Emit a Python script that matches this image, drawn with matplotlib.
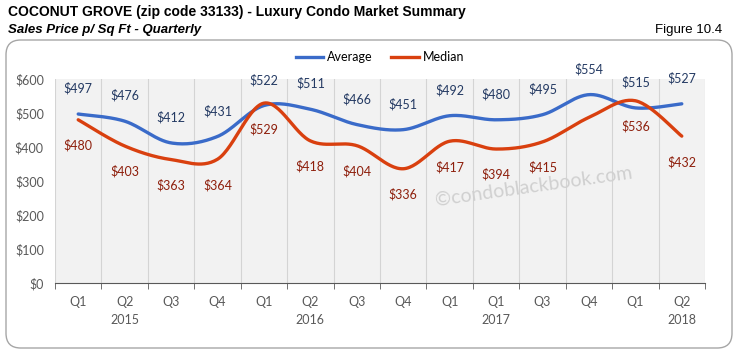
import numpy as np
import matplotlib
matplotlib.use('Agg')
import matplotlib.pyplot as plt
from matplotlib.patches import FancyBboxPatch
from matplotlib.lines import Line2D

# quarterly sales price per sq ft
quarters = ['Q1', 'Q2', 'Q3', 'Q4', 'Q1', 'Q2', 'Q3', 'Q4', 'Q1', 'Q1', 'Q3', 'Q4', 'Q1', 'Q2']
years = {1: '2015', 5: '2016', 9: '2017', 13: '2018'}
average = [497, 476, 412, 431, 522, 511, 466, 451, 492, 480, 495, 554, 515, 527]
median = [480, 403, 363, 364, 529, 418, 404, 336, 417, 394, 415, 487, 536, 432]
median_labeled = [True] * 11 + [False] + [True] * 2

AVG_COLOR = '#3A6BC9'
MED_COLOR = '#D9400F'
AVG_TEXT = '#243A63'
MED_TEXT = '#8E1F0C'
TITLE_FONT = ['Liberation Sans Narrow', 'Liberation Sans', 'DejaVu Sans']
LABEL_FONT = ['Lato', 'DejaVu Sans']


def smooth(x, y, n=30):
    """Catmull-Rom style smoothing, similar to Excel smoothed lines"""
    x = np.asarray(x, float)
    y = np.asarray(y, float)
    px = np.concatenate([[x[0]], x, [x[-1]]])
    py = np.concatenate([[y[0]], y, [y[-1]]])
    xs, ys = [], []
    t = np.linspace(0, 1, n)
    for i in range(1, len(px) - 2):
        p0 = np.array([px[i], py[i]])
        p3 = np.array([px[i + 1], py[i + 1]])
        p1 = p0 + (np.array([px[i + 1], py[i + 1]]) - np.array([px[i - 1], py[i - 1]])) / 6
        p2 = p3 - (np.array([px[i + 2], py[i + 2]]) - np.array([px[i], py[i]])) / 6
        b = ((1 - t) ** 3)[:, None] * p0 + (3 * (1 - t) ** 2 * t)[:, None] * p1 \
            + (3 * (1 - t) * t ** 2)[:, None] * p2 + (t ** 3)[:, None] * p3
        xs.append(b[:, 0])
        ys.append(b[:, 1])
    return np.concatenate(xs), np.concatenate(ys)


fig = plt.figure(figsize=(7.37, 3.52), dpi=100)
fig.patch.set_facecolor('white')

# rounded chart frame
frame = FancyBboxPatch((6 / 737, 4 / 352), 726 / 737, 308 / 352,
                       boxstyle='round,pad=0,rounding_size=0.02',
                       mutation_aspect=737 / 352,
                       transform=fig.transFigure, facecolor='none',
                       edgecolor='#A6A6A6', linewidth=1.0)
fig.patches.append(frame)

fig.text(8 / 737, 1 - 12 / 352, 'COCONUT GROVE (zip code 33133) - Luxury Condo Market Summary',
         family=TITLE_FONT, fontsize=10, fontweight='bold', va='center', ha='left')
fig.text(8 / 737, 1 - 30 / 352, 'Sales Price p/ Sq Ft - Quarterly',
         family=TITLE_FONT, fontsize=9.5, fontweight='bold', style='italic', va='center', ha='left')
fig.text(722 / 737, 1 - 30 / 352, 'Figure 10.4',
         family=TITLE_FONT, fontsize=9.5, va='center', ha='right')

ax = fig.add_axes([55 / 737, 1 - 283 / 352, 650 / 737, 204 / 352])
ax.set_facecolor('#F2F2F2')

x = np.arange(len(quarters))
sx, sy = smooth(x, average)
ax.plot(sx, sy, color=AVG_COLOR, lw=2.4, solid_capstyle='round', zorder=3)
sx, sy = smooth(x, median)
ax.plot(sx, sy, color=MED_COLOR, lw=2.4, solid_capstyle='round', zorder=3)

for i in x:
    ax.annotate(f'${average[i]}', (i, average[i]), xytext=(0, 14), textcoords='offset points',
                ha='center', va='bottom', color=AVG_TEXT, fontsize=9, family=LABEL_FONT)
    if median_labeled[i]:
        ax.annotate(f'${median[i]}', (i, median[i]), xytext=(0, -14), textcoords='offset points',
                    ha='center', va='top', color=MED_TEXT, fontsize=9, family=LABEL_FONT)

ax.set_xlim(-0.5, len(quarters) - 0.5)
ax.set_ylim(0, 600)
ax.set_yticks(range(0, 601, 100))
ax.set_yticklabels([f'${v}' for v in range(0, 601, 100)], family=LABEL_FONT,
                   fontsize=9, color='#595959')
ax.set_xticks(x)
ax.set_xticklabels(quarters, family=LABEL_FONT, fontsize=9, color='#595959')
ax.set_xticks(np.arange(-0.5, len(quarters)), minor=True)
ax.tick_params(axis='x', which='major', length=0, pad=9)
ax.tick_params(axis='x', which='minor', length=4, color='#595959', direction='out')
ax.tick_params(axis='y', length=0, pad=8)
ax.grid(axis='x', which='minor', color='#D4D4D4', lw=0.8)
ax.set_axisbelow(True)
for s in ['top', 'right', 'left']:
    ax.spines[s].set_visible(False)
ax.spines['bottom'].set_color('#595959')

for i, yr in years.items():
    ax.text(i, -0.15, yr, transform=ax.get_xaxis_transform(), ha='center', va='top',
            family=LABEL_FONT, fontsize=9, color='#595959')

# watermark
ax.text(9.8, 285, '\u00a9condoblackbook.com', rotation=8, ha='center', va='center',
        fontsize=14, color='#D0D0D0', family=LABEL_FONT, zorder=2)

handles = [Line2D([], [], color=AVG_COLOR, lw=2.4), Line2D([], [], color=MED_COLOR, lw=2.4)]
fig.legend(handles, ['Average', 'Median'], loc='center', bbox_to_anchor=(380 / 737, 1 - 57 / 352),
           ncol=2, frameon=False, handlelength=2.2, handletextpad=0.3, columnspacing=1.5,
           prop={'family': LABEL_FONT, 'size': 9})

fig.savefig('out.png', dpi=100)
